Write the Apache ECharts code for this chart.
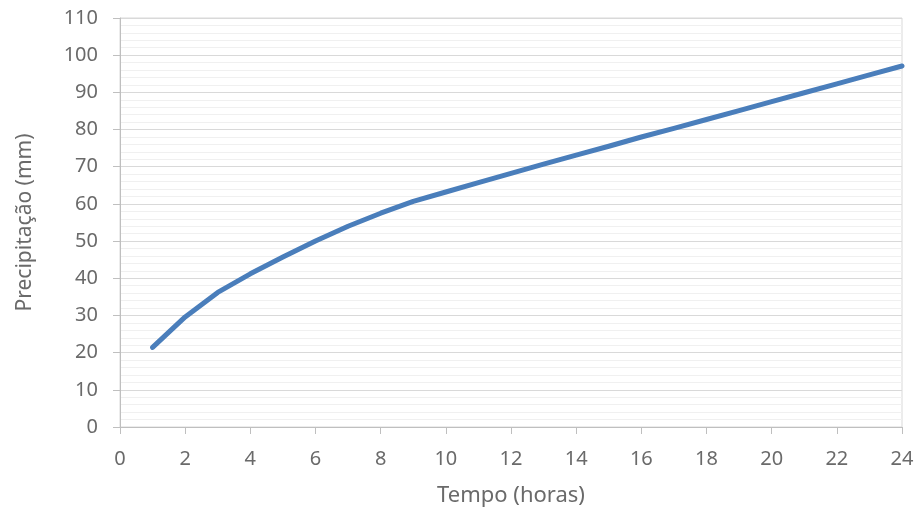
<!DOCTYPE html>
<html>
<head>
<meta charset="utf-8">
<script src="https://cdn.jsdelivr.net/npm/echarts@6/dist/echarts.min.js"></script>
<style>
  html, body { margin: 0; padding: 0; background: #ffffff; }
  #chart { width: 919px; height: 512px; }
</style>
</head>
<body>
<div id="chart"></div>
<script>
// Accumulated precipitation by storm duration
const hours = [1, 2, 3, 4, 5, 6, 7, 8, 9, 10, 11, 12, 13, 14, 15, 16, 17, 18, 19, 20, 21, 22, 23, 24];
const precipitationMm = [21.4, 29.6, 36.2, 41.2, 45.7, 50.0, 54.0, 57.5, 60.7, 63.2, 65.7, 68.2,
                         70.7, 73.1, 75.5, 78.0, 80.3, 82.7, 85.1, 87.5, 89.9, 92.3, 94.7, 97.1];
const xAxisTitle = 'Tempo (horas)';
const yAxisTitle = 'Precipitação (mm)';

const FONT = '"Noto Sans", "Open Sans", sans-serif';
const TEXT_COLOR = '#6a6a6a';

const chart = echarts.init(document.getElementById('chart'), null, { renderer: 'canvas' });

chart.setOption({
  animation: false,
  backgroundColor: '#ffffff',
  textStyle: { fontFamily: FONT },
  grid: {
    left: 120, right: 17, top: 18, bottom: 84,
    show: true, borderColor: '#d9d9d9', borderWidth: 1, backgroundColor: 'transparent'
  },
  xAxis: {
    type: 'value',
    min: 0, max: 24, interval: 2,
    name: xAxisTitle,
    nameLocation: 'middle',
    nameGap: 58,
    nameTextStyle: { fontFamily: FONT, fontSize: 22, color: TEXT_COLOR },
    axisLine: { show: true, lineStyle: { color: '#bfbfbf', width: 1 } },
    axisTick: { show: true, length: 7, lineStyle: { color: '#bfbfbf' } },
    axisLabel: { fontFamily: FONT, fontSize: 20, color: TEXT_COLOR, margin: 22 },
    splitLine: { show: false }
  },
  yAxis: {
    type: 'value',
    min: 0, max: 110, interval: 10,
    name: yAxisTitle,
    nameLocation: 'middle',
    nameGap: 84,
    nameRotate: 90,
    nameTextStyle: { fontFamily: FONT, fontSize: 21, color: TEXT_COLOR },
    axisLine: { show: true, lineStyle: { color: '#bfbfbf', width: 1 } },
    axisTick: { show: true, length: 7, lineStyle: { color: '#bfbfbf' } },
    axisLabel: { fontFamily: FONT, fontSize: 20, color: TEXT_COLOR, margin: 22 },
    splitLine: { show: true, lineStyle: { color: '#d9d9d9', width: 1 } },
    minorTick: { show: false, splitNumber: 5 },
    minorSplitLine: { show: true, lineStyle: { color: '#f0f0f0', width: 1 } }
  },
  series: [{
    type: 'line',
    data: hours.map((h, i) => [h, precipitationMm[i]]),
    showSymbol: false,
    symbol: 'none',
    smooth: false,
    lineStyle: { color: '#4a7ebb', width: 5, cap: 'round', join: 'round' },
    itemStyle: { color: '#4a7ebb' }
  }]
});
</script>
</body>
</html>
